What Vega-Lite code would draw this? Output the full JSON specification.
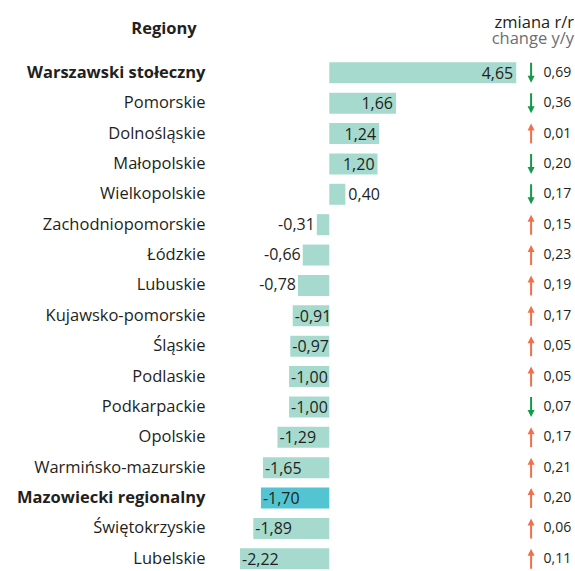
{
  "$schema": "https://vega.github.io/schema/vega-lite/v6.json",
  "autosize": "none",
  "padding": {"left": 225, "top": 53, "right": 0, "bottom": 0},
  "width": 350,
  "height": 525.6,
  "background": "white",
  "config": {
    "view": {"stroke": null},
    "font": "Open Sans",
    "locale": {"number": {"decimal": ",", "thousands": " ", "grouping": [3], "currency": ["", ""], "minus": "-"}}
  },
  "title": {
    "text": "zmiana r/r",
    "subtitle": "change y/y",
    "anchor": "end",
    "orient": "top",
    "font": "Open Sans",
    "fontSize": 16.5,
    "fontWeight": "normal",
    "color": "#231f20",
    "subtitleFont": "Open Sans",
    "subtitleFontSize": 16.5,
    "subtitleColor": "#6d6e71",
    "subtitlePadding": 0,
    "offset": 8,
    "dx": -1,
    "dy": 35
  },
  "data": {
    "values": [
      {"region": "Warszawski stołeczny", "value": 4.65, "dir": "down", "change": 0.69},
      {"region": "Pomorskie", "value": 1.66, "dir": "down", "change": 0.36},
      {"region": "Dolnośląskie", "value": 1.24, "dir": "up", "change": 0.01},
      {"region": "Małopolskie", "value": 1.20, "dir": "down", "change": 0.20},
      {"region": "Wielkopolskie", "value": 0.40, "dir": "down", "change": 0.17},
      {"region": "Zachodniopomorskie", "value": -0.31, "dir": "up", "change": 0.15},
      {"region": "Łódzkie", "value": -0.66, "dir": "up", "change": 0.23},
      {"region": "Lubuskie", "value": -0.78, "dir": "up", "change": 0.19},
      {"region": "Kujawsko-pomorskie", "value": -0.91, "dir": "up", "change": 0.17},
      {"region": "Śląskie", "value": -0.97, "dir": "up", "change": 0.05},
      {"region": "Podlaskie", "value": -1.00, "dir": "up", "change": 0.05},
      {"region": "Podkarpackie", "value": -1.00, "dir": "down", "change": 0.07},
      {"region": "Opolskie", "value": -1.29, "dir": "up", "change": 0.17},
      {"region": "Warmińsko-mazurskie", "value": -1.65, "dir": "up", "change": 0.21},
      {"region": "Mazowiecki regionalny", "value": -1.70, "dir": "up", "change": 0.20},
      {"region": "Świętokrzyskie", "value": -1.89, "dir": "up", "change": 0.06},
      {"region": "Lubelskie", "value": -2.22, "dir": "up", "change": 0.11}
    ]
  },
  "encoding": {
    "y": {
      "field": "region",
      "type": "nominal",
      "sort": null,
      "scale": {"paddingInner": 0.309, "paddingOuter": 0.306},
      "axis": {
        "title": "Regiony",
        "titleAngle": 0,
        "titleX": -61.5,
        "titleY": -24,
        "titleAlign": "center",
        "titleBaseline": "middle",
        "titleFont": "Open Sans",
        "titleFontSize": 16.5,
        "titleFontWeight": "bold",
        "titleColor": "#231f20",
        "domain": false,
        "ticks": false,
        "labelPadding": 20,
        "labelLimit": 400,
        "labelFont": "Open Sans",
        "labelFontSize": 16.5,
        "labelColor": "#231f20",
        "labelFontWeight": {"condition": {"test": "datum.value === 'Warszawski stołeczny' || datum.value === 'Mazowiecki regionalny'", "value": "bold"}, "value": "normal"}
      }
    }
  },
  "layer": [
    {
      "mark": {"type": "bar"},
      "encoding": {
        "x": {"field": "value", "type": "quantitative", "scale": {"domain": [-2.594, 6.112], "nice": false}, "axis": null},
        "color": {
          "condition": {"test": "datum.region === 'Mazowiecki regionalny'", "value": "#52c4d2"},
          "value": "#a6dace"
        }
      }
    },
    {
      "mark": {"type": "rule", "color": "#808080", "strokeWidth": 1},
      "encoding": {"x": {"datum": 0}}
    },
    {
      "transform": [{"filter": "datum.value >= 1"}],
      "mark": {"type": "text", "align": "right", "baseline": "middle", "dx": -3, "dy": 1, "fontSize": 16, "color": "#231f20"},
      "encoding": {"x": {"field": "value", "type": "quantitative"}, "text": {"field": "value", "format": ".2f"}}
    },
    {
      "transform": [{"filter": "datum.value > 0 && datum.value < 1"}],
      "mark": {"type": "text", "align": "left", "baseline": "middle", "dx": 3, "dy": 1, "fontSize": 16, "color": "#231f20"},
      "encoding": {"x": {"field": "value", "type": "quantitative"}, "text": {"field": "value", "format": ".2f"}}
    },
    {
      "transform": [{"filter": "datum.value < 0 && datum.value > -0.9"}],
      "mark": {"type": "text", "align": "right", "baseline": "middle", "dx": -2, "dy": 0, "fontSize": 16, "color": "#231f20"},
      "encoding": {"x": {"field": "value", "type": "quantitative"}, "text": {"field": "value", "format": ".2f"}}
    },
    {
      "transform": [{"filter": "datum.value <= -0.9"}],
      "mark": {"type": "text", "align": "left", "baseline": "middle", "dx": 2, "dy": 1, "fontSize": 16, "color": "#231f20"},
      "encoding": {"x": {"field": "value", "type": "quantitative"}, "text": {"field": "value", "format": ".2f"}}
    },
    {
      "mark": {"type": "point", "filled": true, "opacity": 1, "size": 400, "strokeWidth": 0},
      "encoding": {
        "x": {"datum": 5.02},
        "shape": {"field": "dir", "type": "nominal", "legend": null, "scale": {"domain": ["up", "down"], "range": ["M-0.1,1L0.1,1L0.1,-0.3L0.35,-0.3L0,-1L-0.35,-0.3L-0.1,-0.3Z", "M-0.1,-1L0.1,-1L0.1,0.3L0.35,0.3L0,1L-0.35,0.3L-0.1,0.3Z"]}},
        "color": {"field": "dir", "type": "nominal", "legend": null, "scale": {"domain": ["up", "down"], "range": ["#f36f4a", "#16994c"]}}
      }
    },
    {
      "mark": {"type": "text", "align": "left", "baseline": "middle", "fontSize": 14, "color": "#231f20"},
      "encoding": {
        "x": {"datum": 5.33},
        "text": {"field": "change", "format": ".2f"}
      }
    }
  ]
}
